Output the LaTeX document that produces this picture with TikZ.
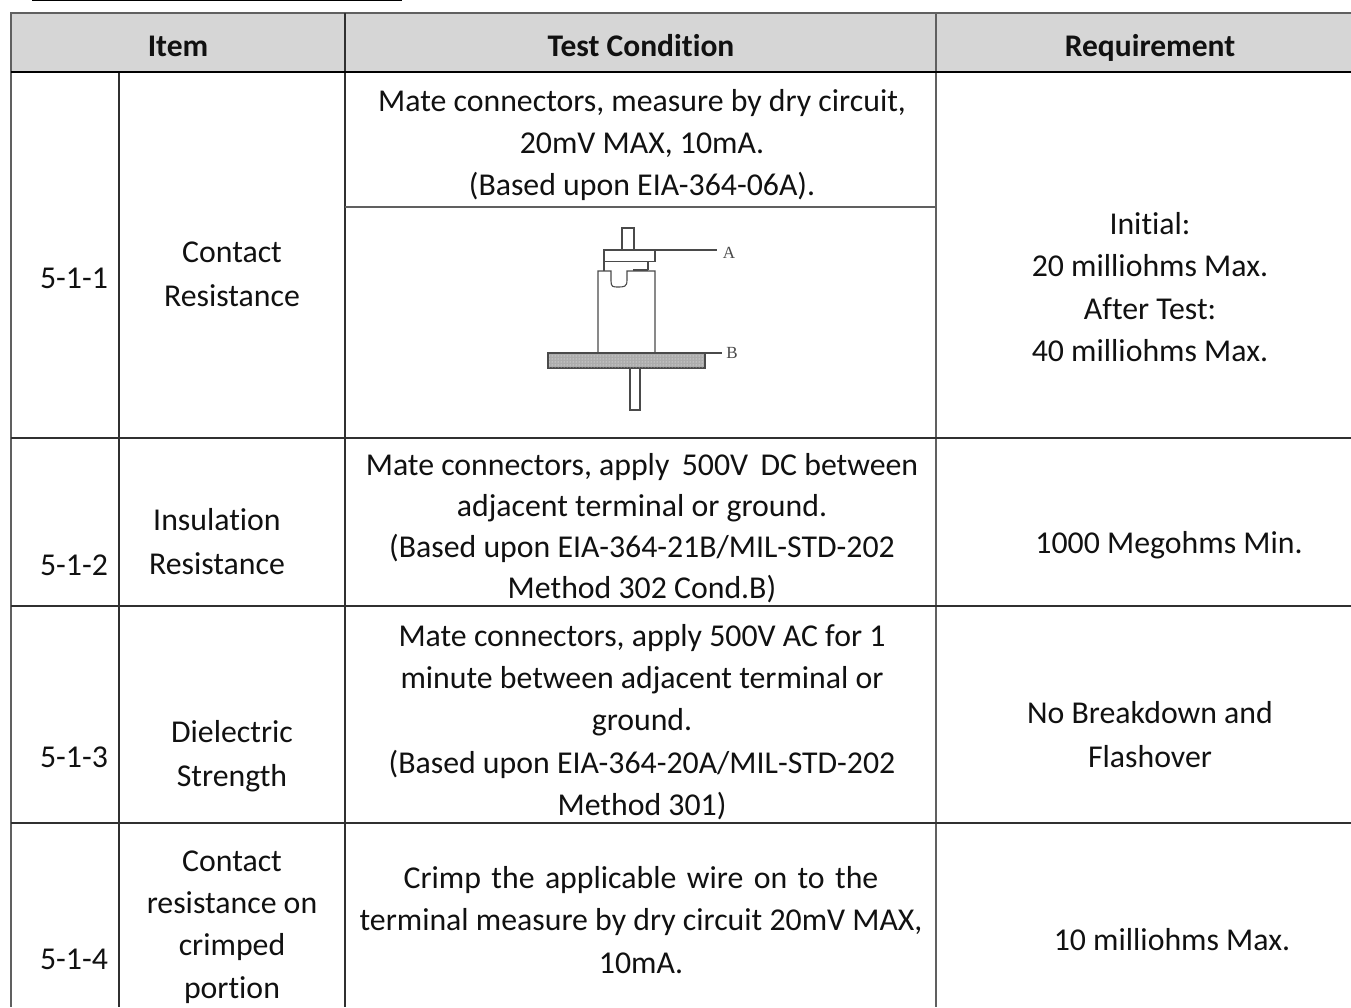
\documentclass[tikz,border=0pt]{standalone}
\usepackage{fontspec}
\setmainfont[Ligatures=NoCommon]{Carlito}
\usetikzlibrary{patterns}
\definecolor{hdr}{HTML}{D6D6D6}
\definecolor{rule}{HTML}{303030}
\definecolor{edge}{HTML}{606060}
\definecolor{ink}{HTML}{111111}
\definecolor{sk}{HTML}{4A4A4A}
\newfontfamily\tagfont{Liberation Serif}
\tikzset{
  cell/.style={font=\fontsize{31.8}{42.2}\selectfont,text=ink,align=center,inner sep=0pt},
  wide/.style={cell,font=\fontsize{31.8}{44}\selectfont},
  tight/.style={cell,font=\fontsize{31.8}{40.8}\selectfont},
  head/.style={cell,font=\fontsize{31.5}{36}\selectfont\bfseries,anchor=base},
  grid/.style={draw=rule,line width=1.3pt},
  outer/.style={draw=edge,line width=2pt},
  thick rule/.style={draw=black,line width=2.4pt},
  sketch/.style={draw=sk,line width=1.1pt},
  tag/.style={font=\fontsize{17}{20}\selectfont\tagfont,text=sk,inner sep=0pt}
}
\begin{document}
\begin{tikzpicture}[x=1pt,y=-1pt]
\useasboundingbox (0,0) rectangle (1351,1007);
\fill[white] (0,0) rectangle (1351,1007);
\fill[hdr] (11,13) rectangle (1351,72);
% rules
\draw[draw=black,line width=1.6pt] (32,0.5) -- (402,0.5);
\draw[outer] (11,13) -- (1351,13);
\draw[outer] (11,12) -- (11,1007);
\draw[grid] (119,72) -- (119,1007);
\draw[grid] (345,13) -- (345,1007);
\draw[outer] (936,13) -- (936,1007);
\draw[grid] (11,438) -- (1351,438);
\draw[grid] (11,606) -- (1351,606);
\draw[grid] (11,823) -- (1351,823);
\draw[outer] (345,207) -- (936,207);
\draw[thick rule] (11,72) -- (1351,72);
% header
\node[head] (hitem) at (178,56) {Item};
\node[head] (htest) at (641,56) {Test Condition};
\node[head] (hreq) at (1150,56) {Requirement};
% row 1
\node[cell] (n1) at (74,278) {5-1-1};
\node[wide] (i1) at (232,274) {Contact\\Resistance};
\node[cell] (c1) at (642,145) {Mate connectors, measure by dry circuit,\\20mV MAX, 10mA.\\(Based upon EIA-364-06A).};
\node[cell] (r1) at (1150,287) {Initial:\\20 milliohms Max.\\After Test:\\40 milliohms Max.};
% row 2
\node[cell] (n2) at (74,565) {5-1-2};
\node[wide] (i2) at (217,542) {Insulation\\Resistance};
\node[tight] (c2) at (642,528) {Mate connectors, apply\hspace{12.4pt}500V\hspace{12.4pt}DC between\\adjacent terminal or ground.\\(Based upon EIA-364-21B/MIL-STD-202\\Method 302 Cond.B)};
\node[cell] (r2) at (1169,545) {1000 Megohms Min.};
% row 3
\node[cell] (n3) at (74,757) {5-1-3};
\node[wide] (i3) at (232,756) {Dielectric\\Strength};
\node[cell] (c3) at (642,722) {Mate connectors, apply 500V AC for 1\\minute between adjacent terminal or\\ground.\\(Based upon EIA-364-20A/MIL-STD-202\\Method 301)};
\node[wide] (r3) at (1150,735) {No Breakdown and\\Flashover};
% row 4
\node[cell] (n4) at (74,959) {5-1-4};
\node[cell] (i4) at (232,927) {Contact\\resistance on\\crimped\\portion};
\node[cell] (c4) at (641,920) {Crimp\hspace{10.4pt}the\hspace{10.4pt}applicable\hspace{10.4pt}wire\hspace{10.4pt}on\hspace{10.4pt}to\hspace{10.4pt}the\\terminal measure by dry circuit 20mV MAX,\\10mA.};
\node[cell] (r4) at (1172,940) {10 milliohms Max.};
% test sketch
\draw[sketch] (622,250) -- (622,228) -- (634,228) -- (634,250);
\draw[sketch] (604,271) -- (604,250) -- (655,250) -- (655,261.5) -- (604,261.5);
\draw[sketch] (648,261.5) -- (648,270);
\draw[sketch] (598,353) -- (598,271) -- (611,271) -- (611,281)
  .. controls (611,287) and (613,287) .. (618,287) .. controls (624,287) and (627,287) .. (627,280)
  -- (627,271) -- (655,271) -- (655,353);
\draw[sketch,line width=2pt] (633,270) -- (648,270);
\coordinate (pa) at (655,250);
\coordinate (pb) at (705,353);
\node[tag] (ta) at (729,253) {A};
\node[tag] (tb) at (732,353) {B};
\draw[sketch] (pa) -- (717,250);
\draw[sketch] (pb) -- (722,353);
\filldraw[draw=sk,line width=1.1pt,fill=gray!65] (548,353) rectangle (705,368);
\fill[pattern=dots,pattern color=white] (549,354) rectangle (704,367);
\draw[sketch] (630,368) -- (630,410) -- (640,410) -- (640,368);
\end{tikzpicture}
\end{document}
